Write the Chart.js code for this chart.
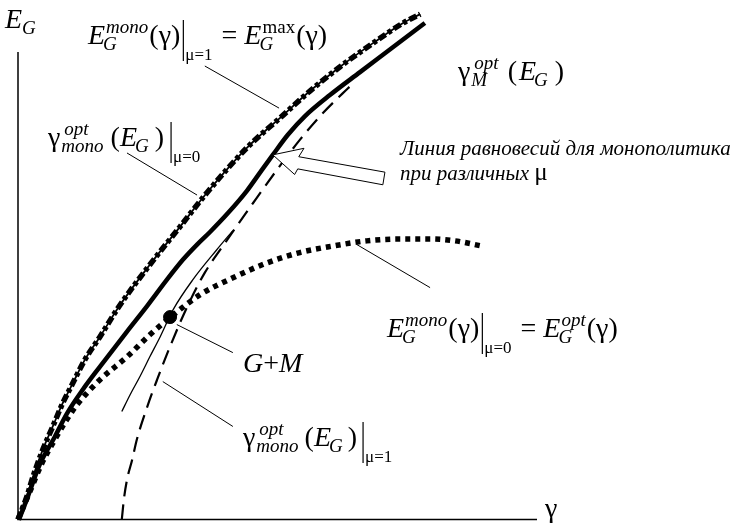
<!DOCTYPE html>
<html>
<head>
<meta charset="utf-8">
<script src="https://cdn.jsdelivr.net/npm/chart.js@4.4.0/dist/chart.umd.min.js"></script>
<style>
  html, body { margin: 0; padding: 0; background: #fff; }
  #wrap { width: 741px; height: 527px; }
</style>
</head>
<body>
<div id="wrap"><canvas id="monopolist_chart"></canvas></div>
<script>
// E_G^max(gamma): monopolist curve at mu = 1
var maxGamma = [0, 0.17, 0.29, 0.48, 0.67, 0.85, 1.04, 1.29, 1.58, 1.93, 2.54, 3.12, 3.64, 4.41, 5.11, 5.63, 6.20, 6.84, 7.42, 7.75];
var maxEg    = [0, 0.49, 0.92, 1.50, 1.99, 2.46, 2.88, 3.42, 3.91, 4.53, 5.45, 6.26, 6.99, 7.95, 8.65, 9.17, 9.68, 10.19, 10.62, 10.81];

// equilibrium line of the monopolist for different mu
var eqGamma = [0.02, 0.19, 0.42, 0.71, 0.94, 1.25, 1.58, 2.10, 2.49, 2.87, 3.18, 3.45, 3.70, 4.05, 4.41, 4.70, 4.91, 5.20, 5.53, 6.01, 6.59, 7.21, 7.84];
var eqEg    = [0, 0.49, 1.18, 1.77, 2.26, 2.78, 3.27, 4.02, 4.57, 5.13, 5.56, 5.88, 6.15, 6.56, 7.03, 7.48, 7.80, 8.23, 8.63, 9.08, 9.57, 10.09, 10.62];

// gamma_mono^opt(E_G) at mu = 1
var monoGamma = [2.00, 2.04, 2.10, 2.20, 2.29, 2.49, 2.68, 2.93, 3.26, 3.60, 4.03, 4.53, 4.99, 5.43, 5.88, 6.26, 6.40];
var monoEg    = [0, 0.43, 0.85, 1.28, 1.71, 2.41, 2.99, 3.70, 4.55, 5.28, 5.98, 6.77, 7.48, 8.12, 8.70, 9.12, 9.27];

// gamma_M^opt(E_G)
var mGamma = [2.00, 2.16, 2.35, 2.54, 2.74, 2.99, 3.37, 3.83, 4.14];
var mEg    = [2.31, 2.67, 3.06, 3.48, 3.91, 4.49, 5.13, 5.77, 6.18];

// E_G^opt(gamma): monopolist curve at mu = 0
var optGamma = [0, 0.23, 0.46, 0.71, 0.94, 1.14, 1.58, 2.10, 2.54, 2.93, 3.51, 4.14, 4.80, 5.43, 6.07, 6.72, 7.36, 7.94, 8.42, 8.94];
var optEg    = [0, 0.60, 1.20, 1.71, 2.14, 2.46, 2.99, 3.48, 3.95, 4.32, 4.81, 5.17, 5.49, 5.71, 5.85, 5.96, 6.00, 6.00, 5.96, 5.85];

// G+M point
var gmGamma = [2.93];
var gmEg    = [4.33];

// leader lines from labels to curves, [gamma1, E1, gamma2, E2]
var leaders = [
  [3.60, 9.70, 5.03, 8.80],
  [2.10, 7.84, 3.45, 6.94],
  [6.53, 5.88, 7.94, 4.96],
  [3.06, 4.17, 4.14, 3.57],
  [2.79, 2.95, 4.14, 1.99]
];

// outline of the hollow arrow pointing at the equilibrium line
var arrowGamma = [4.91, 5.51, 5.41, 7.07, 7.03, 5.39, 5.33];
var arrowEg    = [7.80, 7.94, 7.76, 7.43, 7.16, 7.50, 7.38];

function pts(xs, ys) {
  return xs.map(function (x, i) { return { x: x, y: ys[i] }; });
}

var SERIF = '"Liberation Serif", "Times New Roman", serif';
var MAIN = 28, SCRIPT = 19;
function font(size, italic) {
  return (italic ? 'italic ' : '') + size + 'px ' + SERIF;
}

// draws a formula piece by piece: plain text, stacked sup/sub, evaluation bar
function formula(ctx, x, y, parts) {
  parts.forEach(function (p) {
    if (p.gap) { x += p.gap; return; }
    if (p.bar) {
      ctx.beginPath();
      ctx.lineWidth = 1.2;
      ctx.moveTo(x + 3, y - 24);
      ctx.lineTo(x + 3, y + 17);
      ctx.stroke();
      ctx.font = font(17, false);
      ctx.fillText(p.bar, x + 5, y + 16);
      x += 7 + ctx.measureText(p.bar).width;
      return;
    }
    if (p.sup !== undefined || p.sub !== undefined) {
      var w = 0;
      if (p.sup) {
        ctx.font = font(SCRIPT, !p.supUp);
        ctx.fillText(p.sup, x + 1, y - 11);
        w = ctx.measureText(p.sup).width + 1;
      }
      if (p.sub) {
        ctx.font = font(SCRIPT, !p.subUp);
        ctx.fillText(p.sub, x - 2, y + 6);
        w = Math.max(w, ctx.measureText(p.sub).width - 2);
      }
      x += w + 1;
      return;
    }
    ctx.font = font(p.size || MAIN, p.it);
    ctx.fillText(p.t, x, y);
    x += ctx.measureText(p.t).width;
  });
  return x;
}

var decor = {
  id: 'decor',
  afterDatasetsDraw: function (chart) {
    var ctx = chart.ctx;
    var sx = chart.scales.x, sy = chart.scales.y;
    var px = function (v) { return sx.getPixelForValue(v); };
    var py = function (v) { return sy.getPixelForValue(v); };
    ctx.save();
    ctx.strokeStyle = '#000';
    ctx.fillStyle = '#000';

    // axes
    ctx.lineWidth = 1.5;
    ctx.beginPath();
    ctx.moveTo(px(0), py(10));
    ctx.lineTo(px(0), py(0));
    ctx.lineTo(px(10), py(0));
    ctx.stroke();

    // leader lines
    ctx.lineWidth = 1;
    leaders.forEach(function (l) {
      ctx.beginPath();
      ctx.moveTo(px(l[0]), py(l[1]));
      ctx.lineTo(px(l[2]), py(l[3]));
      ctx.stroke();
    });

    // hollow arrow
    ctx.beginPath();
    arrowGamma.forEach(function (g, i) {
      if (i === 0) ctx.moveTo(px(g), py(arrowEg[i]));
      else ctx.lineTo(px(g), py(arrowEg[i]));
    });
    ctx.closePath();
    ctx.fillStyle = '#fff';
    ctx.fill();
    ctx.lineWidth = 1;
    ctx.stroke();
    ctx.fillStyle = '#000';

    ctx.textBaseline = 'alphabetic';

    // axis names
    formula(ctx, 5, 28, [{ t: 'E', it: true }, { gap: 2 }, { sub: 'G' }]);
    formula(ctx, 545, 517, [{ t: 'γ' }]);

    formula(ctx, 88, 44, [
      { t: 'E', it: true }, { sup: 'mono', sub: 'G' }, { t: '(γ)' }, { bar: 'μ=1' },
      { t: ' = ' }, { t: 'E', it: true }, { sup: 'max', supUp: true, sub: 'G' }, { t: '(γ)' }
    ]);

    formula(ctx, 458, 80, [
      { t: 'γ' }, { gap: 3 }, { sup: 'opt', sub: 'M' }, { gap: 8 }, { t: '(' }, { gap: 2 },
      { t: 'E', it: true }, { sub: 'G' }, { gap: 6 }, { t: ')' }
    ]);

    formula(ctx, 48, 146, [
      { t: 'γ' }, { gap: 3 }, { sup: 'opt', sub: 'mono' }, { gap: 6 }, { t: '(' },
      { t: 'E', it: true }, { sub: 'G' }, { gap: 5 }, { t: ')' }, { gap: 4 }, { bar: 'μ=0' }
    ]);

    formula(ctx, 387, 337, [
      { t: 'E', it: true }, { sup: 'mono', sub: 'G' }, { t: '(γ)' }, { bar: 'μ=0' },
      { t: ' = ' }, { t: 'E', it: true }, { sup: 'opt', sub: 'G' }, { t: '(γ)' }
    ]);

    formula(ctx, 243, 372, [{ t: 'G', it: true }, { t: '+' }, { t: 'M', it: true }]);

    formula(ctx, 243, 446, [
      { t: 'γ' }, { gap: 3 }, { sup: 'opt', sub: 'mono' }, { gap: 5 }, { t: '(' },
      { t: 'E', it: true }, { sub: 'G' }, { gap: 4 }, { t: ')' }, { gap: 3 }, { bar: 'μ=1' }
    ]);

    formula(ctx, 400, 155, [{ t: 'Линия равновесий для монополитика', it: true, size: 21 }]);
    formula(ctx, 400, 180, [{ t: 'при различных ', it: true, size: 21 }, { t: 'μ', size: 25 }]);

    ctx.restore();
  }
};

new Chart(document.getElementById('monopolist_chart'), {
  type: 'scatter',
  data: {
    datasets: [
      {
        // thin line under the heavy dash pattern of E_G^max
        data: pts(maxGamma, maxEg),
        showLine: true, borderColor: '#000', borderWidth: 1.8,
        pointRadius: 0, cubicInterpolationMode: 'monotone', clip: false
      },
      {
        data: pts(maxGamma, maxEg),
        showLine: true, borderColor: '#000', borderWidth: 5.5,
        borderDash: [8, 3, 4, 3],
        pointRadius: 0, cubicInterpolationMode: 'monotone', clip: false
      },
      {
        data: pts(eqGamma, eqEg),
        showLine: true, borderColor: '#000', borderWidth: 4.5,
        pointRadius: 0, cubicInterpolationMode: 'monotone', clip: false
      },
      {
        data: pts(monoGamma, monoEg),
        showLine: true, borderColor: '#000', borderWidth: 2.2,
        borderDash: [15, 8],
        pointRadius: 0, cubicInterpolationMode: 'monotone', clip: false
      },
      {
        data: pts(mGamma, mEg),
        showLine: true, borderColor: '#000', borderWidth: 1.3,
        pointRadius: 0, cubicInterpolationMode: 'monotone', clip: false
      },
      {
        data: pts(optGamma, optEg),
        showLine: true, borderColor: '#000', borderWidth: 5.5,
        borderDash: [5, 5],
        pointRadius: 0, cubicInterpolationMode: 'monotone', clip: false
      },
      {
        data: pts(gmGamma, gmEg),
        showLine: false, pointRadius: 6.5,
        pointBackgroundColor: '#000', pointBorderColor: '#000', clip: false
      }
    ]
  },
  options: {
    responsive: true,
    maintainAspectRatio: false,
    animation: false,
    layout: { padding: { left: 18, right: 204, top: 52, bottom: 7 } },
    plugins: { legend: { display: false }, tooltip: { enabled: false } },
    scales: {
      x: { type: 'linear', min: 0, max: 10, display: false },
      y: { type: 'linear', min: 0, max: 10, display: false }
    }
  },
  plugins: [decor]
});
</script>
</body>
</html>
